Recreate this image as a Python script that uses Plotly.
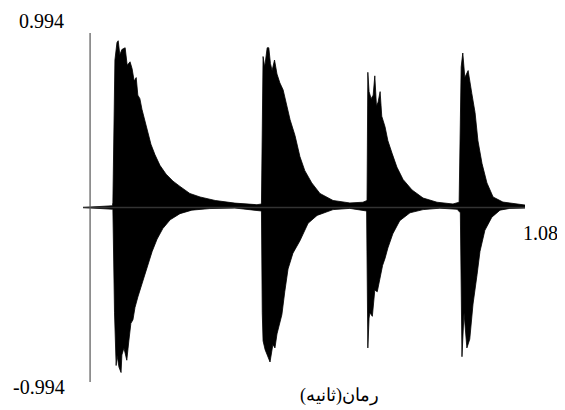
import plotly.graph_objects as go

# upper envelope of the waveform (time in s, amplitude)
upper_t = [0.000, 0.072, 0.073, 0.078, 0.083, 0.086, 0.090, 0.095, 0.103, 0.108, 0.115,
           0.120, 0.125, 0.130, 0.134, 0.139, 0.144, 0.152, 0.159, 0.166, 0.176,
           0.188, 0.203, 0.220, 0.237, 0.261, 0.286, 0.323, 0.371, 0.425, 0.436,
           0.440, 0.444, 0.450, 0.454, 0.458, 0.462, 0.468, 0.474, 0.481, 0.489,
           0.498, 0.506, 0.518, 0.530, 0.542, 0.559, 0.579, 0.611, 0.652, 0.684,
           0.694, 0.696, 0.699, 0.704, 0.709, 0.713, 0.717, 0.721, 0.726, 0.730,
           0.738, 0.745, 0.755, 0.767, 0.782, 0.804, 0.831, 0.865, 0.904, 0.919,
           0.924, 0.928, 0.933, 0.941, 0.950, 0.958, 0.965, 0.975, 0.987, 1.002,
           1.026, 1.043, 1.080]
upper_v = [0.00, 0.01, 0.03, 0.84, 0.94, 0.95, 0.87, 0.90, 0.91, 0.81, 0.83,
           0.79, 0.72, 0.74, 0.64, 0.62, 0.56, 0.49, 0.42, 0.36, 0.30,
           0.24, 0.19, 0.15, 0.12, 0.08, 0.06, 0.04, 0.025, 0.016, 0.02,
           0.86, 0.80, 0.91, 0.91, 0.82, 0.78, 0.84, 0.76, 0.71, 0.67,
           0.58, 0.50, 0.41, 0.29, 0.21, 0.14, 0.08, 0.04, 0.026, 0.03,
           0.04, 0.77, 0.66, 0.62, 0.64, 0.75, 0.58, 0.60, 0.66, 0.52,
           0.46, 0.38, 0.31, 0.23, 0.16, 0.10, 0.054, 0.03, 0.02, 0.03,
           0.80, 0.88, 0.74, 0.78, 0.65, 0.54, 0.38, 0.25, 0.14, 0.06,
           0.031, 0.026, 0.014]

# lower envelope of the waveform
lower_t = [0.000, 0.073, 0.077, 0.079, 0.081, 0.083, 0.088, 0.093, 0.095, 0.100, 0.107, 0.112,
           0.117, 0.122, 0.127, 0.134, 0.142, 0.149, 0.159, 0.169, 0.181, 0.195,
           0.213, 0.237, 0.266, 0.310, 0.371, 0.436, 0.438, 0.440, 0.445, 0.450, 0.457,
           0.464, 0.469, 0.474, 0.486, 0.493, 0.501, 0.513, 0.530, 0.550, 0.572,
           0.611, 0.652, 0.693, 0.695, 0.696, 0.699, 0.701, 0.707, 0.713, 0.719, 0.726,
           0.732, 0.738, 0.745, 0.757, 0.774, 0.799, 0.831, 0.872, 0.914, 0.922,
           0.924, 0.926, 0.931, 0.938, 0.945, 0.953, 0.963, 0.970, 0.982, 0.999, 1.019,
           1.043, 1.080]
lower_v = [0.00, -0.01, -0.60, -0.82, -0.90, -0.84, -0.91, -0.94, -0.84, -0.80, -0.87, -0.76,
           -0.66, -0.64, -0.57, -0.51, -0.45, -0.39, -0.32, -0.25, -0.18, -0.12,
           -0.07, -0.035, -0.015, -0.006, -0.003, -0.02, -0.60, -0.76, -0.81, -0.84, -0.88,
           -0.78, -0.80, -0.72, -0.61, -0.48, -0.35, -0.26, -0.19, -0.09, -0.045,
           -0.012, -0.005, -0.02, -0.50, -0.80, -0.63, -0.60, -0.62, -0.47, -0.48, -0.40,
           -0.33, -0.29, -0.23, -0.15, -0.075, -0.03, -0.012, -0.004, -0.01, -0.03,
           -0.55, -0.85, -0.60, -0.80, -0.75, -0.55, -0.38, -0.25, -0.13, -0.055, -0.015,
           -0.005, -0.003]

y_lim = 0.994
x_end = 1.08
x_label = "رمان(ثانیه)"

fig = go.Figure()

fig.add_trace(go.Scatter(x=upper_t, y=upper_v, mode="lines", fill="tozeroy",
                         fillcolor="black", line=dict(color="black", width=0.8),
                         showlegend=False, hoverinfo="skip"))
fig.add_trace(go.Scatter(x=lower_t, y=lower_v, mode="lines", fill="tozeroy",
                         fillcolor="black", line=dict(color="black", width=0.8),
                         showlegend=False, hoverinfo="skip"))
# baseline
fig.add_trace(go.Scatter(x=[0, x_end], y=[0, 0], mode="lines",
                         line=dict(color="#333333", width=1.5),
                         showlegend=False, hoverinfo="skip"))
# small dot left of the axis
fig.add_trace(go.Scatter(x=[-0.017], y=[0], mode="markers", cliponaxis=False,
                         marker=dict(color="black", size=3),
                         showlegend=False, hoverinfo="skip"))

serif = "Liberation Serif, Times New Roman, serif"

# page body adds an 8px offset, so the figure is 8px smaller and shifted
fig.update_layout(
    width=557, height=402,
    margin=dict(l=75, r=40, t=25, b=28, autoexpand=False),
    paper_bgcolor="white", plot_bgcolor="white",
    xaxis=dict(range=[0, x_end], visible=False),
    yaxis=dict(range=[-y_lim, y_lim], visible=False),
    shapes=[dict(type="line", xref="paper", yref="y", x0=0.016, x1=0.016,
                 y0=-y_lim, y1=y_lim, line=dict(color="#555555", width=1.2))],
    annotations=[
        dict(text=f"{y_lim}", x=-0.095, y=1.0, xref="paper", yref="paper",
             xanchor="center", yanchor="middle", yshift=12, showarrow=False,
             font=dict(family=serif, size=20, color="black")),
        dict(text=f"-{y_lim}", x=-0.1, y=0.0, xref="paper", yref="paper",
             xanchor="center", yanchor="middle", yshift=-5, showarrow=False,
             font=dict(family=serif, size=20, color="black")),
        dict(text=f"{x_end}", x=1.034, y=0, xref="paper", yref="y",
             xanchor="center", yanchor="middle", yshift=-25, showarrow=False,
             font=dict(family=serif, size=20, color="black")),
        dict(text=x_label, x=0.581, y=0, xref="paper", yref="paper",
             xanchor="center", yanchor="middle", yshift=-13, showarrow=False,
             font=dict(family=serif, size=18, color="black")),
    ],
)

fig.write_html("out.html")
